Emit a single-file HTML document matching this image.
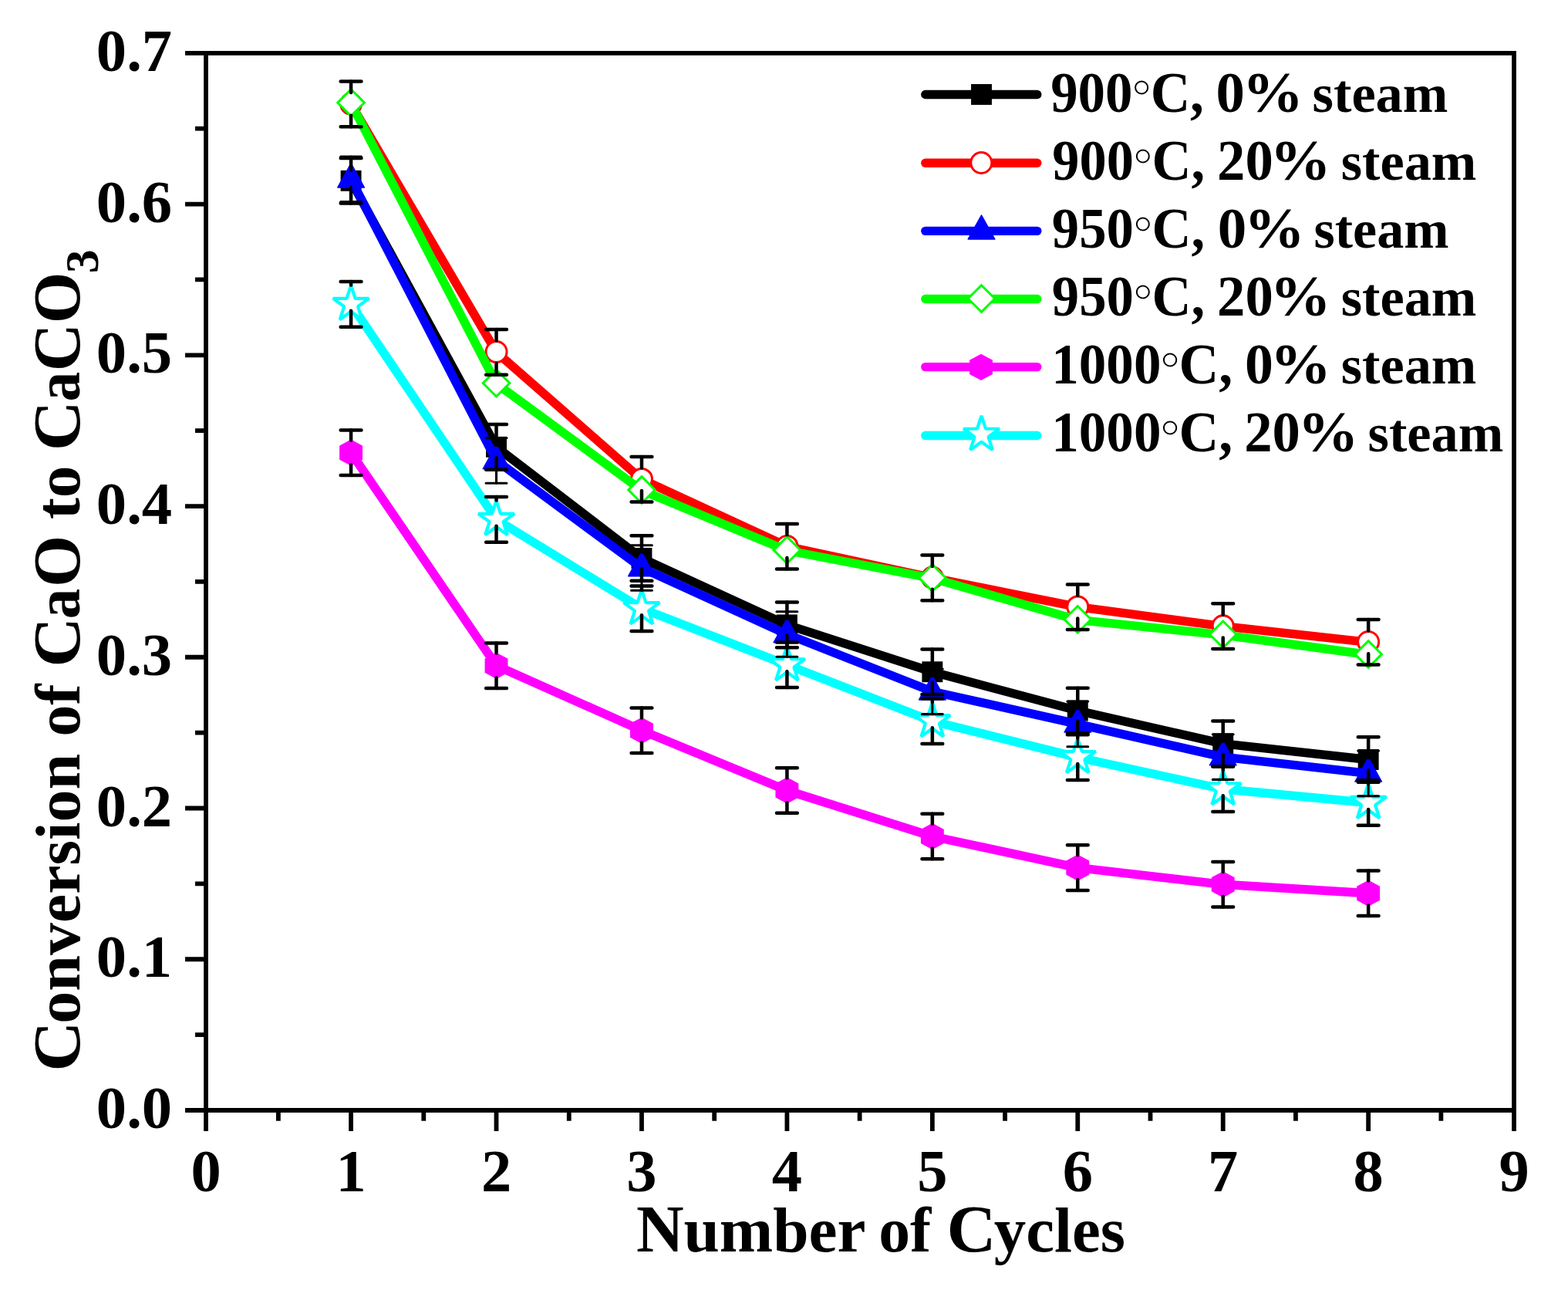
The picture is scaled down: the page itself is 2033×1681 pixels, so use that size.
<!DOCTYPE html>
<html lang="en">
<head>
<meta charset="utf-8">
<title>Conversion of CaO to CaCO3 vs Number of Cycles</title>
<style>
html,body{margin:0;padding:0;background:#fff;}
body{width:2033px;height:1681px;overflow:hidden;}
svg{display:block;}
</style>
</head>
<body>
<svg width="2033" height="1681" viewBox="0 0 2033 1681">
<rect width="2033" height="1681" fill="#fff"/>
<g id="series">
<polyline points="455.09,234.3 643.53,579.35 831.97,723.5 1020.41,809.9 1208.84,870.75 1397.28,921.1 1585.72,963.9 1774.16,984.5" fill="none" stroke="#000000" stroke-width="11.4" stroke-linejoin="round" stroke-linecap="round"/>
<rect x="441.64" y="220.85" width="26.9" height="26.9" fill="#000000"/>
<rect x="630.08" y="565.9" width="26.9" height="26.9" fill="#000000"/>
<rect x="818.52" y="710.05" width="26.9" height="26.9" fill="#000000"/>
<rect x="1006.96" y="796.45" width="26.9" height="26.9" fill="#000000"/>
<rect x="1195.39" y="857.3" width="26.9" height="26.9" fill="#000000"/>
<rect x="1383.83" y="907.65" width="26.9" height="26.9" fill="#000000"/>
<rect x="1572.27" y="950.45" width="26.9" height="26.9" fill="#000000"/>
<rect x="1760.71" y="971.05" width="26.9" height="26.9" fill="#000000"/>
<polyline points="455.09,134.9 643.53,456.4 831.97,621.2 1020.41,708.2 1208.84,748.9 1397.28,786.7 1585.72,811.6 1774.16,832.3" fill="none" stroke="#ff0000" stroke-width="11.4" stroke-linejoin="round" stroke-linecap="round"/>
<circle cx="455.09" cy="134.6" r="13.5" fill="#fff" stroke="#ff0000" stroke-width="3"/>
<circle cx="643.53" cy="456.1" r="13.5" fill="#fff" stroke="#ff0000" stroke-width="3"/>
<circle cx="831.97" cy="620.9" r="13.5" fill="#fff" stroke="#ff0000" stroke-width="3"/>
<circle cx="1020.41" cy="707.9" r="13.5" fill="#fff" stroke="#ff0000" stroke-width="3"/>
<circle cx="1208.84" cy="748.6" r="13.5" fill="#fff" stroke="#ff0000" stroke-width="3"/>
<circle cx="1397.28" cy="786.4" r="13.5" fill="#fff" stroke="#ff0000" stroke-width="3"/>
<circle cx="1585.72" cy="811.3" r="13.5" fill="#fff" stroke="#ff0000" stroke-width="3"/>
<circle cx="1774.16" cy="832" r="13.5" fill="#fff" stroke="#ff0000" stroke-width="3"/>
<polyline points="455.09,232.3 643.53,596.95 831.97,736 1020.41,822 1208.84,896.3 1397.28,938.4 1585.72,981.1 1774.16,1002.4" fill="none" stroke="#0000ff" stroke-width="11.4" stroke-linejoin="round" stroke-linecap="round"/>
<polygon points="455.09,212 472.29,242.95 437.89,242.95" fill="#0000ff" stroke="#0000ff" stroke-width="1.6" stroke-linejoin="round"/>
<polygon points="643.53,576.65 660.73,607.6 626.33,607.6" fill="#0000ff" stroke="#0000ff" stroke-width="1.6" stroke-linejoin="round"/>
<polygon points="831.97,715.7 849.17,746.65 814.77,746.65" fill="#0000ff" stroke="#0000ff" stroke-width="1.6" stroke-linejoin="round"/>
<polygon points="1020.41,801.7 1037.61,832.65 1003.21,832.65" fill="#0000ff" stroke="#0000ff" stroke-width="1.6" stroke-linejoin="round"/>
<polygon points="1208.84,876 1226.04,906.95 1191.64,906.95" fill="#0000ff" stroke="#0000ff" stroke-width="1.6" stroke-linejoin="round"/>
<polygon points="1397.28,918.1 1414.48,949.05 1380.08,949.05" fill="#0000ff" stroke="#0000ff" stroke-width="1.6" stroke-linejoin="round"/>
<polygon points="1585.72,960.8 1602.92,991.75 1568.52,991.75" fill="#0000ff" stroke="#0000ff" stroke-width="1.6" stroke-linejoin="round"/>
<polygon points="1774.16,982.1 1791.36,1013.05 1756.96,1013.05" fill="#0000ff" stroke="#0000ff" stroke-width="1.6" stroke-linejoin="round"/>
<polyline points="455.09,133.7 643.53,497.2 831.97,635.5 1020.41,713.5 1208.84,749.5 1397.28,803.4 1585.72,822.9 1774.16,848.5" fill="none" stroke="#00ff00" stroke-width="11.4" stroke-linejoin="round" stroke-linecap="round"/>
<polygon points="455.09,115.8 472.39,133.1 455.09,150.4 437.79,133.1" fill="#fff" stroke="#00ff00" stroke-width="3" stroke-linejoin="miter"/>
<polygon points="643.53,479.3 660.83,496.6 643.53,513.9 626.23,496.6" fill="#fff" stroke="#00ff00" stroke-width="3" stroke-linejoin="miter"/>
<polygon points="831.97,617.6 849.27,634.9 831.97,652.2 814.67,634.9" fill="#fff" stroke="#00ff00" stroke-width="3" stroke-linejoin="miter"/>
<polygon points="1020.41,695.6 1037.71,712.9 1020.41,730.2 1003.11,712.9" fill="#fff" stroke="#00ff00" stroke-width="3" stroke-linejoin="miter"/>
<polygon points="1208.84,731.6 1226.14,748.9 1208.84,766.2 1191.54,748.9" fill="#fff" stroke="#00ff00" stroke-width="3" stroke-linejoin="miter"/>
<polygon points="1397.28,785.5 1414.58,802.8 1397.28,820.1 1379.98,802.8" fill="#fff" stroke="#00ff00" stroke-width="3" stroke-linejoin="miter"/>
<polygon points="1585.72,805 1603.02,822.3 1585.72,839.6 1568.42,822.3" fill="#fff" stroke="#00ff00" stroke-width="3" stroke-linejoin="miter"/>
<polygon points="1774.16,830.6 1791.46,847.9 1774.16,865.2 1756.86,847.9" fill="#fff" stroke="#00ff00" stroke-width="3" stroke-linejoin="miter"/>
<polyline points="455.09,586.7 643.53,862.8 831.97,946.8 1020.41,1024.5 1208.84,1084 1397.28,1124.6 1585.72,1146.3 1774.16,1157.8" fill="none" stroke="#ff00ff" stroke-width="11.4" stroke-linejoin="round" stroke-linecap="round"/>
<polygon points="455.09,570.4 469.34,578 469.34,595.4 455.09,603 440.84,595.4 440.84,578" fill="#ff00ff" stroke="#ff00ff" stroke-width="1.4" stroke-linejoin="round"/>
<polygon points="643.53,846.5 657.78,854.1 657.78,871.5 643.53,879.1 629.28,871.5 629.28,854.1" fill="#ff00ff" stroke="#ff00ff" stroke-width="1.4" stroke-linejoin="round"/>
<polygon points="831.97,930.5 846.22,938.1 846.22,955.5 831.97,963.1 817.72,955.5 817.72,938.1" fill="#ff00ff" stroke="#ff00ff" stroke-width="1.4" stroke-linejoin="round"/>
<polygon points="1020.41,1008.2 1034.66,1015.8 1034.66,1033.2 1020.41,1040.8 1006.16,1033.2 1006.16,1015.8" fill="#ff00ff" stroke="#ff00ff" stroke-width="1.4" stroke-linejoin="round"/>
<polygon points="1208.84,1067.7 1223.09,1075.3 1223.09,1092.7 1208.84,1100.3 1194.59,1092.7 1194.59,1075.3" fill="#ff00ff" stroke="#ff00ff" stroke-width="1.4" stroke-linejoin="round"/>
<polygon points="1397.28,1108.3 1411.53,1115.9 1411.53,1133.3 1397.28,1140.9 1383.03,1133.3 1383.03,1115.9" fill="#ff00ff" stroke="#ff00ff" stroke-width="1.4" stroke-linejoin="round"/>
<polygon points="1585.72,1130 1599.97,1137.6 1599.97,1155 1585.72,1162.6 1571.47,1155 1571.47,1137.6" fill="#ff00ff" stroke="#ff00ff" stroke-width="1.4" stroke-linejoin="round"/>
<polygon points="1774.16,1141.5 1788.41,1149.1 1788.41,1166.5 1774.16,1174.1 1759.91,1166.5 1759.91,1149.1" fill="#ff00ff" stroke="#ff00ff" stroke-width="1.4" stroke-linejoin="round"/>
<polyline points="455.09,394.4 643.53,673.4 831.97,788.7 1020.41,861.8 1208.84,934.75 1397.28,981.6 1585.72,1022.8 1774.16,1040.5" fill="none" stroke="#00ffff" stroke-width="11.4" stroke-linejoin="round" stroke-linecap="round"/>
<polygon points="455.09,369.9 460.61,386.8 478.39,386.83 464.03,397.3 469.49,414.22 455.09,403.8 440.69,414.22 446.15,397.3 431.79,386.83 449.56,386.8" fill="#fff" stroke="#00ffff" stroke-width="4.2" stroke-linejoin="bevel"/>
<polygon points="643.53,648.9 649.05,665.8 666.83,665.83 652.47,676.3 657.93,693.22 643.53,682.8 629.13,693.22 634.59,676.3 620.23,665.83 638,665.8" fill="#fff" stroke="#00ffff" stroke-width="4.2" stroke-linejoin="bevel"/>
<polygon points="831.97,764.2 837.49,781.1 855.27,781.13 840.91,791.6 846.37,808.52 831.97,798.1 817.57,808.52 823.03,791.6 808.67,781.13 826.44,781.1" fill="#fff" stroke="#00ffff" stroke-width="4.2" stroke-linejoin="bevel"/>
<polygon points="1020.41,837.3 1025.93,854.2 1043.71,854.23 1029.35,864.7 1034.81,881.62 1020.41,871.2 1006,881.62 1011.47,864.7 997.1,854.23 1014.88,854.2" fill="#fff" stroke="#00ffff" stroke-width="4.2" stroke-linejoin="bevel"/>
<polygon points="1208.84,910.25 1214.37,927.15 1232.15,927.18 1217.78,937.65 1223.25,954.57 1208.84,944.15 1194.44,954.57 1199.9,937.65 1185.54,927.18 1203.32,927.15" fill="#fff" stroke="#00ffff" stroke-width="4.2" stroke-linejoin="bevel"/>
<polygon points="1397.28,957.1 1402.81,974 1420.58,974.03 1406.22,984.5 1411.68,1001.42 1397.28,991 1382.88,1001.42 1388.34,984.5 1373.98,974.03 1391.76,974" fill="#fff" stroke="#00ffff" stroke-width="4.2" stroke-linejoin="bevel"/>
<polygon points="1585.72,998.3 1591.25,1015.2 1609.02,1015.23 1594.66,1025.7 1600.12,1042.62 1585.72,1032.2 1571.32,1042.62 1576.78,1025.7 1562.42,1015.23 1580.2,1015.2" fill="#fff" stroke="#00ffff" stroke-width="4.2" stroke-linejoin="bevel"/>
<polygon points="1774.16,1016 1779.69,1032.9 1797.46,1032.93 1783.1,1043.4 1788.56,1060.32 1774.16,1049.9 1759.76,1060.32 1765.22,1043.4 1750.86,1032.93 1768.64,1032.9" fill="#fff" stroke="#00ffff" stroke-width="4.2" stroke-linejoin="bevel"/>
</g>
<g id="errors">
<path d="M441.69 205H468.49M441.69 263.6H468.49" stroke="#000" stroke-width="4.5" stroke-linecap="round" fill="none"/><path d="M455.09 205V220.55M455.09 248.05V263.6" stroke="#000" stroke-width="4.5" stroke-linecap="round" fill="none"/>
<path d="M630.13 550.05H656.93M630.13 608.65H656.93" stroke="#000" stroke-width="4.5" stroke-linecap="round" fill="none"/><path d="M643.53 550.05V565.6M643.53 593.1V608.65" stroke="#000" stroke-width="4.5" stroke-linecap="round" fill="none"/>
<path d="M818.57 694.2H845.37M818.57 752.8H845.37" stroke="#000" stroke-width="4.5" stroke-linecap="round" fill="none"/><path d="M831.97 694.2V709.75M831.97 737.25V752.8" stroke="#000" stroke-width="4.5" stroke-linecap="round" fill="none"/>
<path d="M1007.01 780.6H1033.81M1007.01 839.2H1033.81" stroke="#000" stroke-width="4.5" stroke-linecap="round" fill="none"/><path d="M1020.41 780.6V796.15M1020.41 823.65V839.2" stroke="#000" stroke-width="4.5" stroke-linecap="round" fill="none"/>
<path d="M1195.44 841.45H1222.24M1195.44 900.05H1222.24" stroke="#000" stroke-width="4.5" stroke-linecap="round" fill="none"/><path d="M1208.84 841.45V857M1208.84 884.5V900.05" stroke="#000" stroke-width="4.5" stroke-linecap="round" fill="none"/>
<path d="M1383.88 891.8H1410.68M1383.88 950.4H1410.68" stroke="#000" stroke-width="4.5" stroke-linecap="round" fill="none"/><path d="M1397.28 891.8V907.35M1397.28 934.85V950.4" stroke="#000" stroke-width="4.5" stroke-linecap="round" fill="none"/>
<path d="M1572.32 934.6H1599.12M1572.32 993.2H1599.12" stroke="#000" stroke-width="4.5" stroke-linecap="round" fill="none"/><path d="M1585.72 934.6V950.15M1585.72 977.65V993.2" stroke="#000" stroke-width="4.5" stroke-linecap="round" fill="none"/>
<path d="M1760.76 955.2H1787.56M1760.76 1013.8H1787.56" stroke="#000" stroke-width="4.5" stroke-linecap="round" fill="none"/><path d="M1774.16 955.2V970.75M1774.16 998.25V1013.8" stroke="#000" stroke-width="4.5" stroke-linecap="round" fill="none"/>
<path d="M441.69 105.6H468.49M441.69 164.2H468.49" stroke="#000" stroke-width="4.5" stroke-linecap="round" fill="none"/><path d="M455.09 105.6V120.05M455.09 149.75V164.2" stroke="#000" stroke-width="4.5" stroke-linecap="round" fill="none"/>
<path d="M630.13 427.1H656.93M630.13 485.7H656.93" stroke="#000" stroke-width="4.5" stroke-linecap="round" fill="none"/><path d="M643.53 427.1V441.55M643.53 471.25V485.7" stroke="#000" stroke-width="4.5" stroke-linecap="round" fill="none"/>
<path d="M818.57 591.9H845.37M818.57 650.5H845.37" stroke="#000" stroke-width="4.5" stroke-linecap="round" fill="none"/><path d="M831.97 591.9V606.35M831.97 636.05V650.5" stroke="#000" stroke-width="4.5" stroke-linecap="round" fill="none"/>
<path d="M1007.01 678.9H1033.81M1007.01 737.5H1033.81" stroke="#000" stroke-width="4.5" stroke-linecap="round" fill="none"/><path d="M1020.41 678.9V693.35M1020.41 723.05V737.5" stroke="#000" stroke-width="4.5" stroke-linecap="round" fill="none"/>
<path d="M1195.44 719.6H1222.24M1195.44 778.2H1222.24" stroke="#000" stroke-width="4.5" stroke-linecap="round" fill="none"/><path d="M1208.84 719.6V734.05M1208.84 763.75V778.2" stroke="#000" stroke-width="4.5" stroke-linecap="round" fill="none"/>
<path d="M1383.88 757.4H1410.68M1383.88 816H1410.68" stroke="#000" stroke-width="4.5" stroke-linecap="round" fill="none"/><path d="M1397.28 757.4V771.85M1397.28 801.55V816" stroke="#000" stroke-width="4.5" stroke-linecap="round" fill="none"/>
<path d="M1572.32 782.3H1599.12M1572.32 840.9H1599.12" stroke="#000" stroke-width="4.5" stroke-linecap="round" fill="none"/><path d="M1585.72 782.3V796.75M1585.72 826.45V840.9" stroke="#000" stroke-width="4.5" stroke-linecap="round" fill="none"/>
<path d="M1760.76 803H1787.56M1760.76 861.6H1787.56" stroke="#000" stroke-width="4.5" stroke-linecap="round" fill="none"/><path d="M1774.16 803V817.45M1774.16 847.15V861.6" stroke="#000" stroke-width="4.5" stroke-linecap="round" fill="none"/>
<path d="M441.69 203H468.49M441.69 261.6H468.49" stroke="#000" stroke-width="3.1" stroke-linecap="round" fill="none"/><path d="M455.09 203V212.75M455.09 241.85V261.6" stroke="#000" stroke-width="3.1" stroke-linecap="round" fill="none"/>
<path d="M630.13 567.65H656.93M630.13 626.25H656.93" stroke="#000" stroke-width="3.1" stroke-linecap="round" fill="none"/><path d="M643.53 567.65V577.4M643.53 606.5V626.25" stroke="#000" stroke-width="3.1" stroke-linecap="round" fill="none"/>
<path d="M818.57 706.7H845.37M818.57 765.3H845.37" stroke="#000" stroke-width="3.1" stroke-linecap="round" fill="none"/><path d="M831.97 706.7V716.45M831.97 745.55V765.3" stroke="#000" stroke-width="3.1" stroke-linecap="round" fill="none"/>
<path d="M1007.01 792.7H1033.81M1007.01 851.3H1033.81" stroke="#000" stroke-width="3.1" stroke-linecap="round" fill="none"/><path d="M1020.41 792.7V802.45M1020.41 831.55V851.3" stroke="#000" stroke-width="3.1" stroke-linecap="round" fill="none"/>
<path d="M1195.44 867H1222.24M1195.44 925.6H1222.24" stroke="#000" stroke-width="3.1" stroke-linecap="round" fill="none"/><path d="M1208.84 867V876.75M1208.84 905.85V925.6" stroke="#000" stroke-width="3.1" stroke-linecap="round" fill="none"/>
<path d="M1383.88 909.1H1410.68M1383.88 967.7H1410.68" stroke="#000" stroke-width="3.1" stroke-linecap="round" fill="none"/><path d="M1397.28 909.1V918.85M1397.28 947.95V967.7" stroke="#000" stroke-width="3.1" stroke-linecap="round" fill="none"/>
<path d="M1572.32 951.8H1599.12M1572.32 1010.4H1599.12" stroke="#000" stroke-width="3.1" stroke-linecap="round" fill="none"/><path d="M1585.72 951.8V961.55M1585.72 990.65V1010.4" stroke="#000" stroke-width="3.1" stroke-linecap="round" fill="none"/>
<path d="M1760.76 973.1H1787.56M1760.76 1031.7H1787.56" stroke="#000" stroke-width="3.1" stroke-linecap="round" fill="none"/><path d="M1774.16 973.1V982.85M1774.16 1011.95V1031.7" stroke="#000" stroke-width="3.1" stroke-linecap="round" fill="none"/>
<path d="M441.69 557.4H468.49M441.69 616H468.49" stroke="#000" stroke-width="4.5" stroke-linecap="round" fill="none"/><path d="M455.09 557.4V570.45M455.09 602.45V616" stroke="#000" stroke-width="4.5" stroke-linecap="round" fill="none"/>
<path d="M630.13 833.5H656.93M630.13 892.1H656.93" stroke="#000" stroke-width="4.5" stroke-linecap="round" fill="none"/><path d="M643.53 833.5V846.55M643.53 878.55V892.1" stroke="#000" stroke-width="4.5" stroke-linecap="round" fill="none"/>
<path d="M818.57 917.5H845.37M818.57 976.1H845.37" stroke="#000" stroke-width="4.5" stroke-linecap="round" fill="none"/><path d="M831.97 917.5V930.55M831.97 962.55V976.1" stroke="#000" stroke-width="4.5" stroke-linecap="round" fill="none"/>
<path d="M1007.01 995.2H1033.81M1007.01 1053.8H1033.81" stroke="#000" stroke-width="4.5" stroke-linecap="round" fill="none"/><path d="M1020.41 995.2V1008.25M1020.41 1040.25V1053.8" stroke="#000" stroke-width="4.5" stroke-linecap="round" fill="none"/>
<path d="M1195.44 1054.7H1222.24M1195.44 1113.3H1222.24" stroke="#000" stroke-width="4.5" stroke-linecap="round" fill="none"/><path d="M1208.84 1054.7V1067.75M1208.84 1099.75V1113.3" stroke="#000" stroke-width="4.5" stroke-linecap="round" fill="none"/>
<path d="M1383.88 1095.3H1410.68M1383.88 1153.9H1410.68" stroke="#000" stroke-width="4.5" stroke-linecap="round" fill="none"/><path d="M1397.28 1095.3V1108.35M1397.28 1140.35V1153.9" stroke="#000" stroke-width="4.5" stroke-linecap="round" fill="none"/>
<path d="M1572.32 1117H1599.12M1572.32 1175.6H1599.12" stroke="#000" stroke-width="4.5" stroke-linecap="round" fill="none"/><path d="M1585.72 1117V1130.05M1585.72 1162.05V1175.6" stroke="#000" stroke-width="4.5" stroke-linecap="round" fill="none"/>
<path d="M1760.76 1128.5H1787.56M1760.76 1187.1H1787.56" stroke="#000" stroke-width="4.5" stroke-linecap="round" fill="none"/><path d="M1774.16 1128.5V1141.55M1774.16 1173.55V1187.1" stroke="#000" stroke-width="4.5" stroke-linecap="round" fill="none"/>
<path d="M441.69 365.1H468.49M441.69 423.7H468.49" stroke="#000" stroke-width="4.5" stroke-linecap="round" fill="none"/><path d="M455.09 365.1V369.55M455.09 402.85V423.7" stroke="#000" stroke-width="4.5" stroke-linecap="round" fill="none"/>
<path d="M630.13 644.1H656.93M630.13 702.7H656.93" stroke="#000" stroke-width="4.5" stroke-linecap="round" fill="none"/><path d="M643.53 644.1V648.55M643.53 681.85V702.7" stroke="#000" stroke-width="4.5" stroke-linecap="round" fill="none"/>
<path d="M818.57 759.4H845.37M818.57 818H845.37" stroke="#000" stroke-width="4.5" stroke-linecap="round" fill="none"/><path d="M831.97 759.4V763.85M831.97 797.15V818" stroke="#000" stroke-width="4.5" stroke-linecap="round" fill="none"/>
<path d="M1007.01 832.5H1033.81M1007.01 891.1H1033.81" stroke="#000" stroke-width="4.5" stroke-linecap="round" fill="none"/><path d="M1020.41 832.5V836.95M1020.41 870.25V891.1" stroke="#000" stroke-width="4.5" stroke-linecap="round" fill="none"/>
<path d="M1195.44 905.45H1222.24M1195.44 964.05H1222.24" stroke="#000" stroke-width="4.5" stroke-linecap="round" fill="none"/><path d="M1208.84 905.45V909.9M1208.84 943.2V964.05" stroke="#000" stroke-width="4.5" stroke-linecap="round" fill="none"/>
<path d="M1383.88 952.3H1410.68M1383.88 1010.9H1410.68" stroke="#000" stroke-width="4.5" stroke-linecap="round" fill="none"/><path d="M1397.28 952.3V956.75M1397.28 990.05V1010.9" stroke="#000" stroke-width="4.5" stroke-linecap="round" fill="none"/>
<path d="M1572.32 993.5H1599.12M1572.32 1052.1H1599.12" stroke="#000" stroke-width="4.5" stroke-linecap="round" fill="none"/><path d="M1585.72 993.5V997.95M1585.72 1031.25V1052.1" stroke="#000" stroke-width="4.5" stroke-linecap="round" fill="none"/>
<path d="M1760.76 1011.2H1787.56M1760.76 1069.8H1787.56" stroke="#000" stroke-width="4.5" stroke-linecap="round" fill="none"/><path d="M1774.16 1011.2V1015.65M1774.16 1048.95V1069.8" stroke="#000" stroke-width="4.5" stroke-linecap="round" fill="none"/>
</g>
<g id="axes" stroke="#000" stroke-width="5.8" fill="none" stroke-linecap="butt">
<path d="M267.05 65.9V1466M1963 65.9V1466M240.05 68.8H1965.9M240.05 1439H1965.9"/>
<path d="M455.09 1439V1466M643.53 1439V1466M831.97 1439V1466M1020.41 1439V1466M1208.84 1439V1466M1397.28 1439V1466M1585.72 1439V1466M1774.16 1439V1466M360.87 1439V1452.8M549.31 1439V1452.8M737.75 1439V1452.8M926.19 1439V1452.8M1114.62 1439V1452.8M1303.06 1439V1452.8M1491.5 1439V1452.8M1679.94 1439V1452.8M1868.38 1439V1452.8M240.05 1243.26H267.05M240.05 1047.51H267.05M240.05 851.77H267.05M240.05 656.03H267.05M240.05 460.29H267.05M240.05 264.54H267.05M253.05 1341.13H267.05M253.05 1145.39H267.05M253.05 949.64H267.05M253.05 753.9H267.05M253.05 558.16H267.05M253.05 362.41H267.05M253.05 166.67H267.05"/>
</g>
<g id="labels" style="font-family:'Liberation Serif','Times New Roman',serif;font-weight:bold" fill="#000">
<text y="1462" font-size="78.5"><tspan x="124.85" textLength="98.31" lengthAdjust="spacingAndGlyphs">0.0</tspan></text>
<text y="1266.26" font-size="78.5"><tspan x="124.85" textLength="98.31" lengthAdjust="spacingAndGlyphs">0.1</tspan></text>
<text y="1070.51" font-size="78.5"><tspan x="124.85" textLength="98.31" lengthAdjust="spacingAndGlyphs">0.2</tspan></text>
<text y="874.77" font-size="78.5"><tspan x="124.85" textLength="98.31" lengthAdjust="spacingAndGlyphs">0.3</tspan></text>
<text y="679.03" font-size="78.5"><tspan x="124.85" textLength="98.31" lengthAdjust="spacingAndGlyphs">0.4</tspan></text>
<text y="483.29" font-size="78.5"><tspan x="124.85" textLength="98.31" lengthAdjust="spacingAndGlyphs">0.5</tspan></text>
<text y="287.54" font-size="78.5"><tspan x="124.85" textLength="98.31" lengthAdjust="spacingAndGlyphs">0.6</tspan></text>
<text y="91.8" font-size="78.5"><tspan x="124.85" textLength="98.31" lengthAdjust="spacingAndGlyphs">0.7</tspan></text>
<text x="267.05" y="1544.3" font-size="78.5" text-anchor="middle">0</text>
<text x="455.09" y="1544.3" font-size="78.5" text-anchor="middle">1</text>
<text x="643.53" y="1544.3" font-size="78.5" text-anchor="middle">2</text>
<text x="831.97" y="1544.3" font-size="78.5" text-anchor="middle">3</text>
<text x="1020.41" y="1544.3" font-size="78.5" text-anchor="middle">4</text>
<text x="1208.84" y="1544.3" font-size="78.5" text-anchor="middle">5</text>
<text x="1397.28" y="1544.3" font-size="78.5" text-anchor="middle">6</text>
<text x="1585.72" y="1544.3" font-size="78.5" text-anchor="middle">7</text>
<text x="1774.16" y="1544.3" font-size="78.5" text-anchor="middle">8</text>
<text x="1963" y="1544.3" font-size="78.5" text-anchor="middle">9</text>
<text y="1622.3" font-size="82.5"><tspan x="824.99" font-size="86" textLength="61.65" lengthAdjust="spacingAndGlyphs">N</tspan><tspan x="886.56" font-size="82.5" textLength="234.45" lengthAdjust="spacingAndGlyphs">umber</tspan> <tspan x="1139.23" font-size="82.5" textLength="68.04" lengthAdjust="spacingAndGlyphs">of</tspan> <tspan x="1227.57" font-size="86" textLength="63.97" lengthAdjust="spacingAndGlyphs">C</tspan><tspan x="1288.87" font-size="82.5" textLength="170.17" lengthAdjust="spacingAndGlyphs">ycles</tspan></text>
<text transform="rotate(-90)" y="103.2" font-size="82.5"><tspan x="-1388.71" font-size="86" textLength="65.18" lengthAdjust="spacingAndGlyphs">C</tspan><tspan x="-1326.66" font-size="82.5" textLength="349.99" lengthAdjust="spacingAndGlyphs">onversion</tspan> <tspan x="-954.57" font-size="82.5" textLength="68.04" lengthAdjust="spacingAndGlyphs">of</tspan> <tspan x="-864.68" font-size="86" textLength="64.69" lengthAdjust="spacingAndGlyphs">C</tspan><tspan x="-802.37" font-size="82.5" textLength="39.56" lengthAdjust="spacingAndGlyphs">a</tspan><tspan x="-761.13" font-size="86" textLength="67.38" lengthAdjust="spacingAndGlyphs">O</tspan> <tspan x="-673.05" font-size="82.5" textLength="69.63" lengthAdjust="spacingAndGlyphs">to</tspan> <tspan x="-584.39" font-size="86" textLength="64.81" lengthAdjust="spacingAndGlyphs">C</tspan><tspan x="-520.43" font-size="82.5" textLength="38.79" lengthAdjust="spacingAndGlyphs">a</tspan><tspan x="-481.19" font-size="86" textLength="128.57" lengthAdjust="spacingAndGlyphs">CO</tspan><tspan x="-354.37" y="126.5" font-size="61" textLength="30.82" lengthAdjust="spacingAndGlyphs">3</tspan></text>
</g>
<g id="legend" style="font-family:'Liberation Serif','Times New Roman',serif;font-weight:bold">
<line x1="1199.8" y1="122.45" x2="1344.8" y2="122.45" stroke="#000000" stroke-width="11.4" stroke-linecap="round"/>
<rect x="1259.05" y="109" width="26.9" height="26.9" fill="#000000"/>
<text y="144.7" font-size="74" fill="#000"><tspan x="1362.13" font-size="74" textLength="106.41" lengthAdjust="spacingAndGlyphs">900</tspan><tspan x="1467.38" y="146.4" font-size="64" font-weight="normal" textLength="25.33" lengthAdjust="spacingAndGlyphs" stroke="#fff" stroke-width="1.1">°</tspan><tspan x="1491.64" y="144.7" font-size="74" textLength="69.32" lengthAdjust="spacingAndGlyphs">C,</tspan> <tspan x="1576.61" font-size="74" textLength="37.38" lengthAdjust="spacingAndGlyphs">0</tspan><tspan x="1610.78" font-size="74" textLength="79.25" lengthAdjust="spacingAndGlyphs">%</tspan> <tspan x="1701.59" font-size="70.5" textLength="175.85" lengthAdjust="spacingAndGlyphs">steam</tspan></text>
<line x1="1199.8" y1="211.3" x2="1344.8" y2="211.3" stroke="#ff0000" stroke-width="11.4" stroke-linecap="round"/>
<circle cx="1272.3" cy="211" r="13.5" fill="#fff" stroke="#ff0000" stroke-width="3"/>
<text y="232.85" font-size="74" fill="#000"><tspan x="1364.34" font-size="74" textLength="105.57" lengthAdjust="spacingAndGlyphs">900</tspan><tspan x="1469.3" y="234.55" font-size="64" font-weight="normal" textLength="25.2" lengthAdjust="spacingAndGlyphs" stroke="#fff" stroke-width="1.1">°</tspan><tspan x="1493.47" y="232.85" font-size="74" textLength="68.55" lengthAdjust="spacingAndGlyphs">C,</tspan> <tspan x="1578.09" font-size="74" textLength="72.72" lengthAdjust="spacingAndGlyphs">20</tspan><tspan x="1646.48" font-size="74" textLength="79.25" lengthAdjust="spacingAndGlyphs">%</tspan> <tspan x="1738.69" font-size="70.5" textLength="175.65" lengthAdjust="spacingAndGlyphs">steam</tspan></text>
<line x1="1199.8" y1="299.35" x2="1344.8" y2="299.35" stroke="#0000ff" stroke-width="11.4" stroke-linecap="round"/>
<polygon points="1272.5,279.05 1289.7,310 1255.3,310" fill="#0000ff" stroke="#0000ff" stroke-width="1.6" stroke-linejoin="round"/>
<text y="321" font-size="74" fill="#000"><tspan x="1363.83" font-size="74" textLength="106.1" lengthAdjust="spacingAndGlyphs">950</tspan><tspan x="1469.3" y="322.7" font-size="64" font-weight="normal" textLength="25.2" lengthAdjust="spacingAndGlyphs" stroke="#fff" stroke-width="1.1">°</tspan><tspan x="1493.47" y="321" font-size="74" textLength="68.55" lengthAdjust="spacingAndGlyphs">C,</tspan> <tspan x="1578.8" font-size="74" textLength="37.5" lengthAdjust="spacingAndGlyphs">0</tspan><tspan x="1612.92" font-size="74" textLength="78.87" lengthAdjust="spacingAndGlyphs">%</tspan> <tspan x="1703.6" font-size="70.5" textLength="174.83" lengthAdjust="spacingAndGlyphs">steam</tspan></text>
<line x1="1199.8" y1="387.5" x2="1344.8" y2="387.5" stroke="#00ff00" stroke-width="11.4" stroke-linecap="round"/>
<polygon points="1272.5,369.7 1289.8,387 1272.5,404.3 1255.2,387" fill="#fff" stroke="#00ff00" stroke-width="3" stroke-linejoin="miter"/>
<text y="409.15" font-size="74" fill="#000"><tspan x="1363.83" font-size="74" textLength="106.1" lengthAdjust="spacingAndGlyphs">950</tspan><tspan x="1469.3" y="410.85" font-size="64" font-weight="normal" textLength="25.2" lengthAdjust="spacingAndGlyphs" stroke="#fff" stroke-width="1.1">°</tspan><tspan x="1493.47" y="409.15" font-size="74" textLength="68.55" lengthAdjust="spacingAndGlyphs">C,</tspan> <tspan x="1578.09" font-size="74" textLength="72.72" lengthAdjust="spacingAndGlyphs">20</tspan><tspan x="1646.48" font-size="74" textLength="79.25" lengthAdjust="spacingAndGlyphs">%</tspan> <tspan x="1738.69" font-size="70.5" textLength="175.65" lengthAdjust="spacingAndGlyphs">steam</tspan></text>
<line x1="1199.8" y1="475.6" x2="1344.8" y2="475.6" stroke="#ff00ff" stroke-width="11.4" stroke-linecap="round"/>
<polygon points="1272,459.6 1286.25,467.2 1286.25,484.6 1272,492.2 1257.75,484.6 1257.75,467.2" fill="#ff00ff" stroke="#ff00ff" stroke-width="1.4" stroke-linejoin="round"/>
<text y="497.3" font-size="74" fill="#000"><tspan x="1363.31" font-size="74" textLength="142.13" lengthAdjust="spacingAndGlyphs">1000</tspan><tspan x="1504.23" y="499" font-size="64" font-weight="normal" textLength="25.73" lengthAdjust="spacingAndGlyphs" stroke="#fff" stroke-width="1.1">°</tspan><tspan x="1528.52" y="497.3" font-size="74" textLength="69.65" lengthAdjust="spacingAndGlyphs">C,</tspan> <tspan x="1613.95" font-size="74" textLength="36.9" lengthAdjust="spacingAndGlyphs">0</tspan><tspan x="1646.68" font-size="74" textLength="79.25" lengthAdjust="spacingAndGlyphs">%</tspan> <tspan x="1738.79" font-size="70.5" textLength="175.44" lengthAdjust="spacingAndGlyphs">steam</tspan></text>
<line x1="1199.8" y1="564.5" x2="1344.8" y2="564.5" stroke="#00ffff" stroke-width="11.4" stroke-linecap="round"/>
<polygon points="1272.5,538.8 1278.03,555.7 1295.8,555.73 1281.44,566.2 1286.9,583.12 1272.5,572.7 1258.1,583.12 1263.56,566.2 1249.2,555.73 1266.97,555.7" fill="#fff" stroke="#00ffff" stroke-width="4.2" stroke-linejoin="bevel"/>
<text y="585.45" font-size="74" fill="#000"><tspan x="1363.31" font-size="74" textLength="142.13" lengthAdjust="spacingAndGlyphs">1000</tspan><tspan x="1504.23" y="587.15" font-size="64" font-weight="normal" textLength="25.73" lengthAdjust="spacingAndGlyphs" stroke="#fff" stroke-width="1.1">°</tspan><tspan x="1528.52" y="585.45" font-size="74" textLength="69.65" lengthAdjust="spacingAndGlyphs">C,</tspan> <tspan x="1613.3" font-size="74" textLength="72.61" lengthAdjust="spacingAndGlyphs">20</tspan><tspan x="1682.59" font-size="74" textLength="79.12" lengthAdjust="spacingAndGlyphs">%</tspan> <tspan x="1773.59" font-size="70.5" textLength="175.65" lengthAdjust="spacingAndGlyphs">steam</tspan></text>
</g>
</svg>
</body>
</html>
